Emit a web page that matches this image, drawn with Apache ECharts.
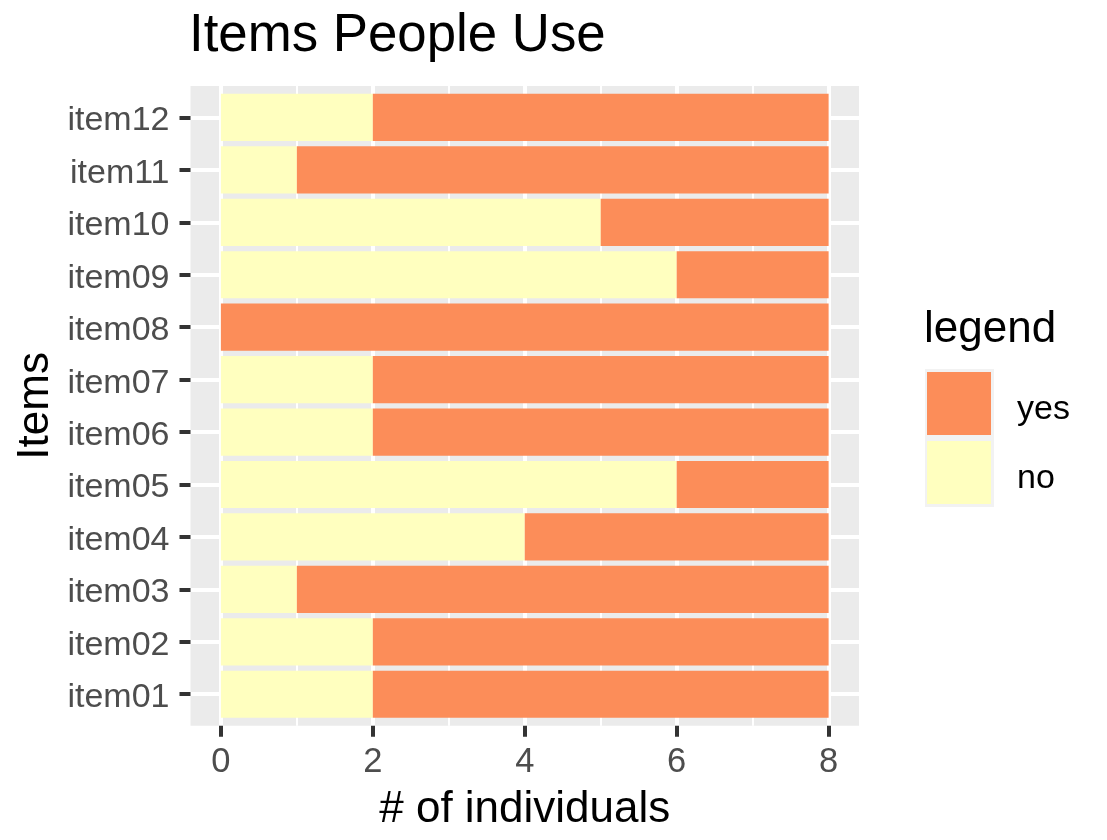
<!DOCTYPE html>
<html><head><meta charset="utf-8">
<script src="https://cdn.jsdelivr.net/npm/echarts@6/dist/echarts.min.js"></script>
<style>html,body{margin:0;padding:0;background:#fff}#c{width:1107px;height:840px}</style>
</head><body><div id="c"></div>
<script>
// ---- data ----
const categories = ['item01','item02','item03','item04','item05','item06','item07','item08','item09','item10','item11','item12'];
const noValues  = [2, 2, 1, 4, 6, 2, 2, 0, 6, 5, 1, 2];
const yesValues = [6, 6, 7, 4, 2, 6, 6, 8, 2, 3, 7, 6];
const legendOrder = ['yes', 'no'];
const xTickLabels = ['0', '2', '4', '6', '8'];
const xMin = 0, xMax = 8, xInterval = 2;

// ---- layout / style ----
const FONT = "'Liberation Sans', Arial, Helvetica, sans-serif";
const P = {left: 190.5, top: 86, width: 668.5, height: 639.7};
const n = categories.length;
const band = P.height / (n - 1 + 1.2);
const xExp = (xMax - xMin) * 0.05;
const unit = P.width / (xMax - xMin + 2 * xExp);
const tick = () => ({show: true, length: 11, lineStyle: {color: '#333333', width: 4}});

const chart = echarts.init(document.getElementById('c'), null, {renderer: 'canvas'});
chart.setOption({
  animation: false,
  backgroundColor: '#ffffff',
  textStyle: {fontFamily: FONT},
  grid: [
    {left: P.left, top: P.top + 0.1 * band, width: P.width, height: n * band},
    {left: P.left, top: P.top + 0.6 * band, width: P.width, height: (n - 1) * band},
    {left: P.left + xExp * unit, top: P.top, width: (xMax - xMin) * unit, height: P.height}
  ],
  xAxis: [
    {gridIndex: 0, type: 'value', min: xMin - xExp, max: xMax + xExp, show: false, axisLine: {onZero: false}},
    {gridIndex: 1, type: 'value', min: 0, max: 1, show: false, axisLine: {onZero: false}},
    {gridIndex: 2, type: 'value', min: xMin, max: xMax, interval: xInterval, position: 'top',
     axisLine: {show: false, onZero: false}, axisTick: {show: false}, axisLabel: {show: false},
     splitLine: {show: true, lineStyle: {color: '#ffffff', width: 4}},
     minorTick: {show: false, splitNumber: 2},
     minorSplitLine: {show: true, lineStyle: {color: '#ffffff', width: 2}}},
    {gridIndex: 2, type: 'category', data: xTickLabels, boundaryGap: false, position: 'bottom',
     axisLine: {show: false, onZero: false},
     axisTick: Object.assign({alignWithLabel: true, interval: 0}, tick()),
     axisLabel: {interval: 0, fontSize: 34.5, color: '#4D4D4D', margin: 19, fontFamily: FONT},
     splitLine: {show: false}}
  ],
  yAxis: [
    {gridIndex: 0, type: 'category', data: categories, position: 'left',
     axisLine: {show: false, onZero: false},
     axisTick: Object.assign({alignWithLabel: true}, tick()),
     axisLabel: {margin: 21, formatter: v => '{t|' + v + '}',
       rich: {t: {fontSize: 34, color: '#4D4D4D', fontFamily: FONT, padding: [7, 0, 0, 0]}}},
     splitLine: {show: false}},
    {gridIndex: 1, type: 'value', min: 1, max: n, interval: 1,
     axisLine: {show: false, onZero: false}, axisTick: {show: false}, axisLabel: {show: false},
     splitLine: {show: true, lineStyle: {color: '#ffffff', width: 4}}},
    {gridIndex: 2, type: 'value', min: 0, max: 1, show: false, axisLine: {onZero: false}}
  ],
  legend: {
    data: legendOrder, orient: 'vertical', left: 922, top: 367,
    itemWidth: 64, itemHeight: 63, itemGap: 6, icon: 'rect', selectedMode: false,
    formatter: name => '{t|' + name + '}',
    textStyle: {fontSize: 34, color: '#000000', fontFamily: FONT,
      rich: {t: {fontSize: 34, color: '#000000', fontFamily: FONT, padding: [12, 0, 0, 21]}}}
  },
  series: [
    {name: 'no', type: 'bar', stack: 'total', xAxisIndex: 0, yAxisIndex: 0,
     data: noValues, barWidth: band * 0.9, itemStyle: {color: '#FFFFBF'}, z: 2},
    {name: 'yes', type: 'bar', stack: 'total', xAxisIndex: 0, yAxisIndex: 0,
     data: yesValues, barWidth: band * 0.9, itemStyle: {color: '#FC8D59'}, z: 2}
  ],
  graphic: [
    {type: 'rect', silent: true, z: -10,
     shape: {x: P.left, y: P.top, width: P.width, height: P.height},
     style: {fill: '#EBEBEB'}},
    {type: 'rect', silent: true, z: -5,
     shape: {x: 925, y: 369, width: 69, height: 138},
     style: {fill: '#F2F2F2'}},
    {type: 'text', silent: true, x: 189, y: 36,
     style: {text: 'Items People Use', fontSize: 52.8, fontFamily: FONT, fill: '#000', align: 'left', verticalAlign: 'middle'}},
    {type: 'text', silent: true, x: P.left + P.width / 2, y: 810,
     style: {text: '# of individuals', fontSize: 44, fontFamily: FONT, fill: '#000', align: 'center', verticalAlign: 'middle'}},
    {type: 'text', silent: true, x: 36, y: P.top + P.height / 2, rotation: Math.PI / 2,
     style: {text: 'Items', fontSize: 44, fontFamily: FONT, fill: '#000', align: 'center', verticalAlign: 'middle'}},
    {type: 'text', silent: true, x: 924, y: 330,
     style: {text: 'legend', fontSize: 44, fontFamily: FONT, fill: '#000', align: 'left', verticalAlign: 'middle'}}
  ]
});
</script>
</body></html>
